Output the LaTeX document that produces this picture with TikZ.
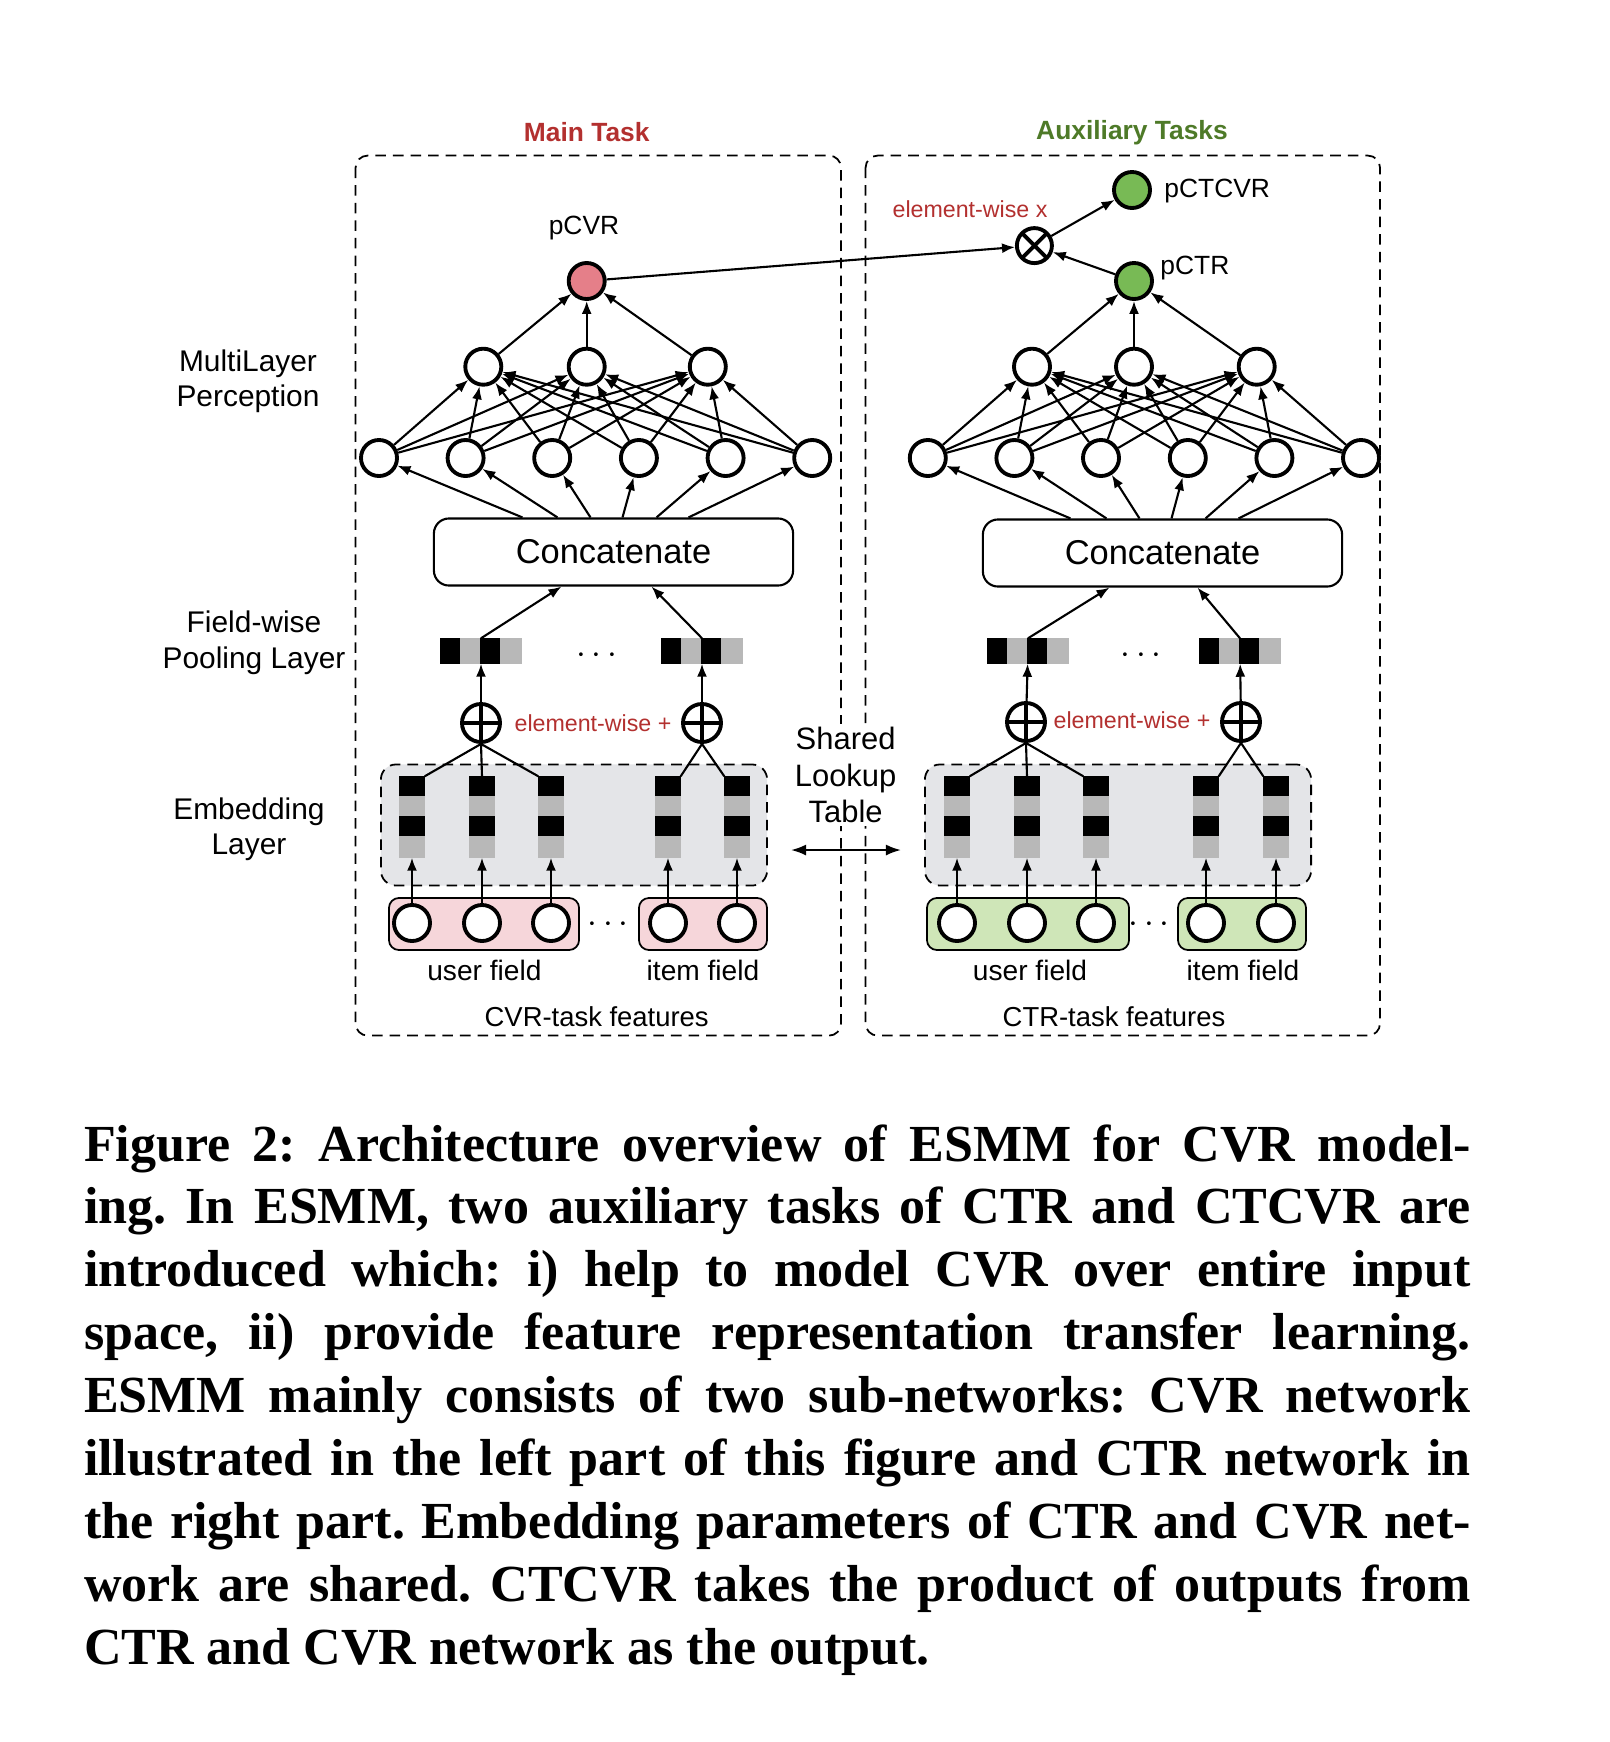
\documentclass[tikz,border=0pt]{standalone}
\usepackage{fontspec}
\setmainfont{Liberation Serif}
\setsansfont{Liberation Sans}
\usetikzlibrary{arrows.meta, positioning}
\definecolor{taskred}{HTML}{B3302F}
\definecolor{taskgreen}{HTML}{4E7A28}
\definecolor{cvrfill}{HTML}{E57F89}
\definecolor{ctrfill}{HTML}{78BA55}
\definecolor{cvrpink}{HTML}{F6D6DA}
\definecolor{ctrgreen}{HTML}{CFE6B8}
\definecolor{embgray}{HTML}{E4E5E8}
\definecolor{vecgray}{HTML}{B8B8B8}
\tikzstyle{every node}=[font=\sffamily]
\tikzstyle{neuron}=[draw,circle,line width=1.1pt,minimum size=0.36cm,inner sep=0pt,fill=white]
\tikzstyle{oplus}=[neuron,minimum size=0.38cm,path picture={\draw[line width=1.1pt] (path picture bounding box.north) -- (path picture bounding box.south) (path picture bounding box.west) -- (path picture bounding box.east);}]
\tikzstyle{otimes}=[neuron,minimum size=0.35cm,path picture={\draw[line width=1.1pt] (path picture bounding box.north west) -- (path picture bounding box.south east) (path picture bounding box.south west) -- (path picture bounding box.north east);}]
\tikzstyle{block}=[draw,rounded corners=0.15cm,line width=0.6pt,minimum width=3.59cm,minimum height=0.67cm,font=\sffamily\fontsize{9.8}{11}\selectfont]
\tikzstyle{taskbox}=[draw,dash pattern=on 3pt off 2pt,rounded corners=0.12cm,line width=0.5pt]
\tikzstyle{embbox}=[draw,dash pattern=on 3pt off 2pt,fill=embgray,rounded corners=0.15cm,line width=0.5pt,minimum width=3.86cm,minimum height=1.21cm]
\tikzstyle{fieldbox}=[draw,rounded corners=0.1cm,line width=0.5pt,minimum height=0.52cm]
\tikzstyle{layerlabel}=[align=center,font=\sffamily\fontsize{8.5}{10}\selectfont]
\tikzstyle{outlabel}=[font=\sffamily\fontsize{7.5}{9}\selectfont]
\tikzstyle{optext}=[text=taskred,font=\sffamily\fontsize{6.6}{8}\selectfont]
\tikzstyle{fieldtext}=[font=\sffamily\fontsize{8}{9}\selectfont]
\tikzstyle{conn}=[->,line width=0.6pt]
\newcommand{\embvec}[2]{%
  \node[minimum width=0.24cm,minimum height=0.8cm,inner sep=0pt] (#1) at (#2) {};
  \fill (#1.north west) rectangle ([yshift=-0.2cm]#1.north east);
  \fill[vecgray] ([yshift=-0.2cm]#1.north west) rectangle ([yshift=-0.4cm]#1.north east);
  \fill ([yshift=-0.4cm]#1.north west) rectangle ([yshift=-0.6cm]#1.north east);
  \fill[vecgray] ([yshift=-0.6cm]#1.north west) rectangle (#1.south east);
}
\newcommand{\poolvec}[2]{%
  \node[minimum width=0.8cm,minimum height=0.24cm,inner sep=0pt] (#1) at (#2) {};
  \fill (#1.south west) rectangle ([xshift=0.2cm]#1.north west);
  \fill[vecgray] ([xshift=0.2cm]#1.south west) rectangle ([xshift=0.4cm]#1.north west);
  \fill ([xshift=0.4cm]#1.south west) rectangle ([xshift=0.6cm]#1.north west);
  \fill[vecgray] ([xshift=0.6cm]#1.south west) rectangle (#1.north east);
}

\begin{document}
\begin{tikzpicture}[x=0.01cm,y=-0.01cm,>={Latex[length=0.13cm,width=0.1cm]}]
  \path[use as bounding box,fill=white] (0,0) rectangle (1610,1742);

  % task frames
  \draw[taskbox] (355.6,155.6) rectangle (841,1035.6);
  \draw[taskbox] (865.6,155.6) rectangle (1380,1035.6);
  \node[text=taskred,font=\sffamily\bfseries\fontsize{7.5}{9}\selectfont] (maintask) at (586.7,132) {Main Task};
  \node[text=taskgreen,font=\sffamily\bfseries\fontsize{7.5}{9}\selectfont] (auxtask) at (1132,133) {Auxiliary Tasks};

  % layer names
  \node[layerlabel] (mlplabel) at (248,381.5) {MultiLayer\\Perception};
  \node[layerlabel] (poollabel) at (254,642.7) {Field-wise\\Pooling Layer};
  \node[layerlabel] (emblabel) at (249,829) {Embedding\\Layer};
  \node[layerlabel,fill=white,inner sep=1pt,font=\sffamily\fontsize{8.8}{10.3}\selectfont] (shared) at (845.6,775) {Shared\\Lookup\\Table};

  % CVR network
  \node[embbox] (cvremb) at (574,825) {};
  \node[fieldbox,fill=cvrpink,minimum width=1.9cm] (cvruser) at (484,924) {};
  \node[fieldbox,fill=cvrpink,minimum width=1.28cm] (cvritem) at (703,924) {};
  \node[fieldtext] (cvruserlabel) at (484.4,970) {user field};
  \node[fieldtext] (cvritemlabel) at (703,970) {item field};
  \node[fieldtext,font=\sffamily\fontsize{7.8}{9}\selectfont] (cvrfeat) at (596.7,1016.7) {CVR-task features};
  \node (cvrdots) at (608,925) {$\cdots$};
  \foreach \x [count=\i] in {412,482,551,668,737} {
    \embvec{cvrvec\i}{\x,817}
    \node[neuron] (cvrin\i) at (\x,923) {};
    \draw[conn] (cvrin\i) -- (cvrvec\i);
  }
  \node[oplus] (cvrplus1) at (481,723) {};
  \node[oplus] (cvrplus2) at (702,723) {};
  \draw[line width=0.6pt] (cvrvec1.north east) -- (cvrplus1.south) (cvrvec2.north) -- (cvrplus1.south) (cvrvec3.north west) -- (cvrplus1.south);
  \draw[line width=0.6pt] (cvrvec4.north east) -- (cvrplus2.south) (cvrvec5.north west) -- (cvrplus2.south);
  \node[optext] (cvrsum) at (593,723) {element-wise +};
  \poolvec{cvrpool1}{481,651}
  \poolvec{cvrpool2}{702,651}
  \node (cvrpooldots) at (596.7,656) {$\cdots$};
  \draw[conn] (cvrplus1) -- (cvrpool1);
  \draw[conn] (cvrplus2) -- (cvrpool2);
  \node[block] (cvrcat) at (613.5,552) {Concatenate};
  \draw[conn] (cvrpool1.north) -- ([xshift=-0.52cm]cvrcat.south);
  \draw[conn] (cvrpool2.north) -- ([xshift=0.38cm]cvrcat.south);
  \foreach \x [count=\i] in {379,465.6,552.2,638.9,725.6,812.2}
    \node[neuron] (cvra\i) at (\x,458) {};
  \foreach \x [count=\j] in {483.3,586.7,707.8}
    \node[neuron] (cvrb\j) at (\x,366.7) {};
  \node[neuron,fill=cvrfill] (pcvr) at (586.7,281) {};
  \node[outlabel] (pcvrlabel) at (584,228) {pCVR};
  \foreach \s [count=\i] in {-0.91,-0.56,-0.23,0.09,0.43,0.75}
    \draw[conn] ([xshift=\s cm]cvrcat.north) -- (cvra\i);
  \foreach \i in {1,...,6}
    \foreach \j in {1,2,3}
      \draw[conn] (cvra\i) -- (cvrb\j);
  \foreach \j in {1,2,3}
    \draw[conn] (cvrb\j) -- (pcvr);

  % CTR network
  \node[embbox] (ctremb) at (1118,825) {};
  \node[fieldbox,fill=ctrgreen,minimum width=2.02cm] (ctruser) at (1028,924) {};
  \node[fieldbox,fill=ctrgreen,minimum width=1.28cm] (ctritem) at (1242,924) {};
  \node[fieldtext] (ctruserlabel) at (1030,970) {user field};
  \node[fieldtext] (ctritemlabel) at (1243,970) {item field};
  \node[fieldtext,font=\sffamily\fontsize{7.8}{9}\selectfont] (ctrfeat) at (1114,1016.7) {CTR-task features};
  \node (ctrdots) at (1149,925) {$\cdots$};
  \foreach \x [count=\i] in {957,1027,1096,1206,1276} {
    \embvec{ctrvec\i}{\x,817}
    \node[neuron] (ctrin\i) at (\x,923) {};
    \draw[conn] (ctrin\i) -- (ctrvec\i);
  }
  \node[oplus] (ctrplus1) at (1026,722) {};
  \node[oplus] (ctrplus2) at (1241,722) {};
  \draw[line width=0.6pt] (ctrvec1.north east) -- (ctrplus1.south) (ctrvec2.north) -- (ctrplus1.south) (ctrvec3.north west) -- (ctrplus1.south);
  \draw[line width=0.6pt] (ctrvec4.north east) -- (ctrplus2.south) (ctrvec5.north west) -- (ctrplus2.south);
  \node[optext] (ctrsum) at (1132,720) {element-wise +};
  \poolvec{ctrpool1}{1028,651}
  \poolvec{ctrpool2}{1240,651}
  \node (ctrpooldots) at (1141,656) {$\cdots$};
  \draw[conn] (ctrplus1) -- (ctrpool1);
  \draw[conn] (ctrplus2) -- (ctrpool2);
  \node[block] (ctrcat) at (1162.5,553) {Concatenate};
  \draw[conn] (ctrpool1.north) -- ([xshift=-0.53cm]ctrcat.south);
  \draw[conn] (ctrpool2.north) -- ([xshift=0.35cm]ctrcat.south);
  \foreach \x [count=\i] in {927.8,1014.4,1101,1187.8,1274.4,1361}
    \node[neuron] (ctra\i) at (\x,458) {};
  \foreach \x [count=\j] in {1032,1134,1256.7}
    \node[neuron] (ctrb\j) at (\x,366.7) {};
  \node[neuron,fill=ctrfill] (pctr) at (1134,281) {};
  \node[outlabel,anchor=west] (pctrlabel) at (1148,268) {pCTR};
  \foreach \s [count=\i] in {-0.92,-0.56,-0.23,0.09,0.43,0.76}
    \draw[conn] ([xshift=\s cm]ctrcat.north) -- (ctra\i);
  \foreach \i in {1,...,6}
    \foreach \j in {1,2,3}
      \draw[conn] (ctra\i) -- (ctrb\j);
  \foreach \j in {1,2,3}
    \draw[conn] (ctrb\j) -- (pctr);

  % CTCVR output
  \node[otimes] (prod) at (1034.4,245.6) {};
  \node[neuron,fill=ctrfill] (pctcvr) at (1132,190) {};
  \node[outlabel,anchor=west] (pctcvrlabel) at (1152,191) {pCTCVR};
  \node[optext] (prodlabel) at (970,209) {element-wise x};
  \draw[conn] (pcvr) -- (prod);
  \draw[conn] (pctr) -- (prod);
  \draw[conn] (prod) -- (pctcvr);

  % shared embeddings
  \draw[{Latex[length=0.15cm,width=0.11cm]}-{Latex[length=0.15cm,width=0.11cm]},line width=0.6pt,shorten <=0.23cm,shorten >=0.23cm] ([yshift=-0.25cm]cvremb.east) -- ([yshift=-0.25cm]ctremb.west);

  % caption
  \node[anchor=base west,text width=13.86cm,align=justify,inner sep=0pt,font=\rmfamily\bfseries\fontsize{14.8}{17.9}\selectfont\frenchspacing] (caption) at (83.3,1161) {Figure 2: Architecture overview of ESMM for CVR model-\linebreak ing. In ESMM, two auxiliary tasks of CTR and CTCVR are\linebreak introduced which: i) help to model CVR over entire input\linebreak space, ii) provide feature representation transfer learning.\linebreak ESMM mainly consists of two sub-networks: CVR network\linebreak illustrated in the left part of this figure and CTR network in\linebreak the right part. Embedding parameters of CTR and CVR net-\linebreak work are shared. CTCVR takes the product of outputs from\linebreak CTR and CVR network as the output.};
\end{tikzpicture}
\end{document}
